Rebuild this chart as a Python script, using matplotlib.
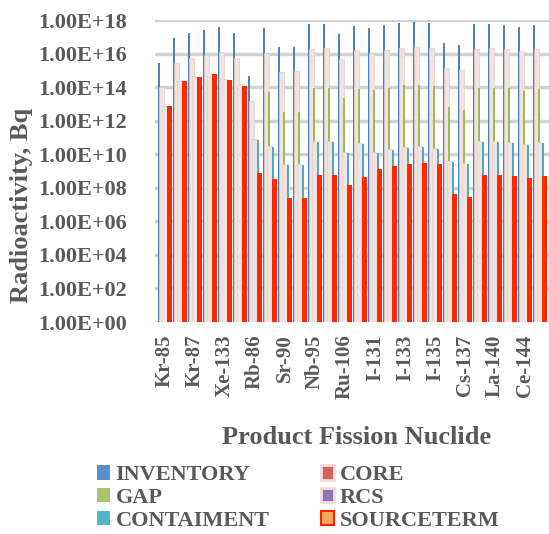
import numpy as np
import matplotlib
matplotlib.use("Agg")
import matplotlib.pyplot as plt
from matplotlib.patches import Patch
from matplotlib.ticker import FixedLocator, FuncFormatter

plt.rcParams['font.family'] = ['Liberation Serif', 'DejaVu Serif']
plt.rcParams['font.weight'] = 'bold'

# nuclides (only every other one is labelled on the axis)
nuclides = ['Kr-85', 'Kr-85m', 'Kr-87', 'Kr-88', 'Xe-133', 'Xe-135', 'Rb-86',
            'Sr-89', 'Sr-90', 'Y-90', 'Nb-95', 'Zr-95', 'Ru-106', 'Te-132',
            'I-131', 'I-132', 'I-133', 'I-134', 'I-135', 'Cs-134', 'Cs-137',
            'Ba-140', 'La-140', 'Ce-141', 'Ce-144', 'Pr-143']

# log10 of activity (Bq)
inventory = [15.44, 16.94, 17.20, 17.38, 17.56, 17.20, 14.66, 17.50, 16.40, 16.40,
             17.76, 17.78, 17.16, 17.66, 17.50, 17.68, 17.82, 17.88, 17.80, 16.62,
             16.50, 17.76, 17.78, 17.72, 17.60, 17.70]
core = [14.00, 15.44, 15.74, 15.90, 16.10, 15.74, 13.16, 16.04, 14.90, 14.94,
        16.30, 16.34, 15.70, 16.24, 16.04, 16.24, 16.36, 16.40, 16.34, 15.16,
        15.04, 16.30, 16.34, 16.30, 16.14, 16.26]
gap = [12.86, 14.34, 14.62, 14.78, 14.42, 14.06, 10.90, 13.70, 12.54, 12.54,
       13.94, 13.94, 13.34, 13.86, 13.80, 13.94, 14.10, 14.14, 14.06, 12.80,
       12.66, 13.94, 13.94, 13.94, 13.74, 13.86]
rcs = [12.90, 14.38, 14.66, 14.82, 14.46, 14.10, 10.90, 10.50, 9.40, 9.40,
       10.76, 10.76, 10.14, 10.66, 10.14, 10.30, 10.46, 10.50, 10.40, 9.60,
       9.50, 10.76, 10.80, 10.74, 10.60, 10.70]
containment = [12.84, 14.32, 14.60, 14.76, 14.40, 14.04, 10.84, 10.44, 9.34, 9.34,
               10.70, 10.70, 10.08, 10.60, 10.08, 10.24, 10.40, 10.44, 10.34, 9.54,
               9.44, 10.70, 10.74, 10.68, 10.54, 10.64]
sourceterm = [12.86, 14.34, 14.62, 14.78, 14.42, 14.06, 8.86, 8.50, 7.38, 7.38,
              8.74, 8.74, 8.14, 8.64, 9.10, 9.28, 9.44, 9.50, 9.42, 7.60,
              7.48, 8.74, 8.76, 8.72, 8.58, 8.68]

series_names = ['INVENTORY', 'CORE', 'GAP', 'RCS', 'CONTAIMENT', 'SOURCETERM']

fig = plt.figure(figsize=(5.49, 5.34), dpi=100)
ax = fig.add_axes([155/549, 1 - 322/534, 394/549, 302/534])

x = np.arange(len(nuclides))
pale = '#F3E3DE'
# (values, left offset, width, face, edge) -- offsets in category units
bars = [
    (inventory,   -0.443, 0.135, '#4F81BD', 'none'),
    (core,        -0.397, 0.307, pale, '#E0CEC9'),
    (gap,         -0.130, 0.133, '#9BBB59', 'none'),
    (rcs,         -0.176, 0.313, pale, '#E0CEC9'),
    (containment,  0.117, 0.120, '#4BACC6', 'none'),
    (sourceterm,   0.110, 0.333, '#FF2800', 'none'),
]
for vals, off, w, fc, ec in bars:
    v = 10 ** np.array(vals)
    ax.bar(x + off, v - 1, width=w, bottom=1, align='edge', color=fc,
           edgecolor=ec, linewidth=0.5)

ax.set_yscale('log')
ax.set_ylim(1, 1e18)
ax.set_xlim(-0.663, 25.6)
ax.yaxis.set_major_locator(FixedLocator([10.0 ** k for k in range(0, 19, 2)]))
ax.yaxis.set_minor_locator(FixedLocator([]))
ax.yaxis.set_major_formatter(FuncFormatter(lambda v, p: f"{v:.2E}"))
ax.set_xticks(x[::2])
ax.set_xticklabels(nuclides[::2], rotation=90)
ax.tick_params(axis='y', length=0, pad=20, labelsize=16, labelcolor='#595959')
ax.tick_params(axis='x', length=0, pad=9, labelsize=15, labelcolor='#595959')
for t in ax.get_xticklabels() + ax.get_yticklabels():
    t.set_fontweight('bold')

ax.grid(axis='y', color='#D2D2D2', linewidth=2.5)
ax.set_axisbelow(True)
for s in ax.spines.values():
    s.set_visible(False)

fig.text(22/549, 1 - 205/534, 'Radioactivity, Bq', rotation=90, ha='center',
         va='center', fontsize=19, fontweight='bold', color='#595959')
fig.text(357/549, 1 - 437/534, 'Product Fission Nuclide', ha='center',
         va='center', fontsize=19, fontweight='bold', color='#595959')

handles = [
    Patch(facecolor='#5B8FC9', edgecolor='none'),
    Patch(facecolor='#A9C46A', edgecolor='none'),
    Patch(facecolor='#55B4CC', edgecolor='none'),
    Patch(facecolor='#D0635A', edgecolor='#F2DCDB', linewidth=2),
    Patch(facecolor='#8E75B0', edgecolor='#F2DCDB', linewidth=2),
    Patch(facecolor='#F9A85A', edgecolor='#FF2000', linewidth=1.5),
]
labels = ['INVENTORY', 'GAP', 'CONTAIMENT', 'CORE', 'RCS', 'SOURCETERM']
leg = fig.legend(handles, labels, ncol=2, loc='center',
                 bbox_to_anchor=(298/549, 1 - 498/534), frameon=False,
                 fontsize=16, handlelength=0.6, handleheight=0.6,
                 handletextpad=0.25, columnspacing=2.3, labelspacing=0.12,
                 borderpad=0)
for t in leg.get_texts():
    t.set_color('#595959')
    t.set_fontweight('bold')

fig.savefig('out.png', dpi=100)
